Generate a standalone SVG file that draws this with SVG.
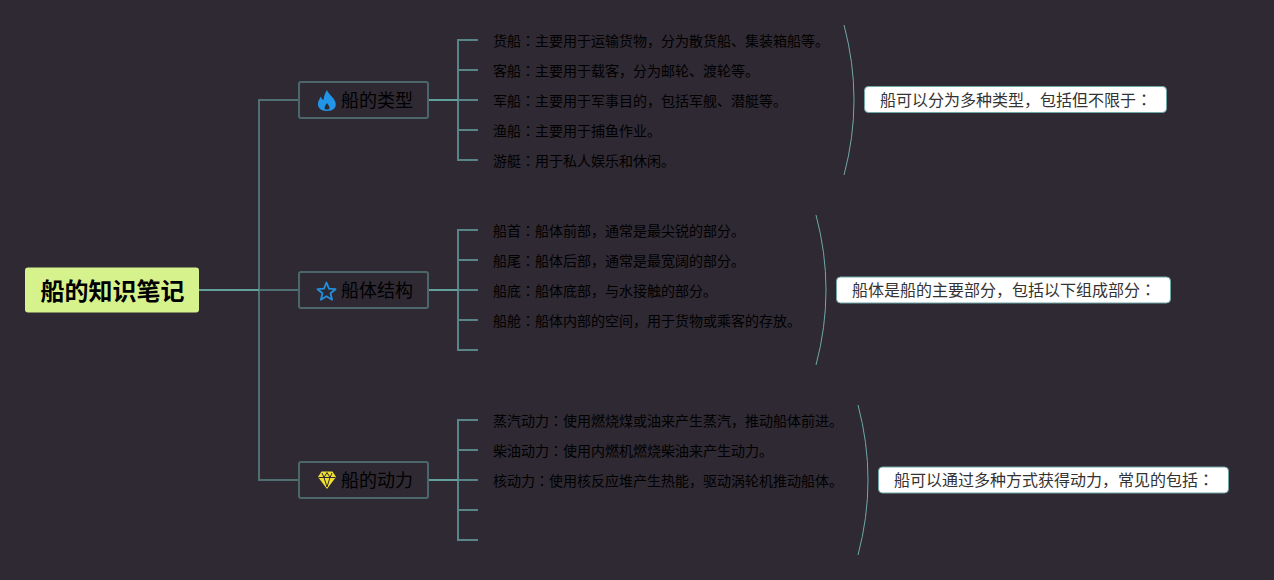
<svg xmlns="http://www.w3.org/2000/svg" width="1274" height="580" viewBox="0 0 1274 580">
<style>
text{font-family:"Noto Sans CJK SC","Noto Sans CJK TC",sans-serif;fill:#0d0d0d}
.c{font-family:"Noto Sans CJK TC","Noto Sans CJK SC",sans-serif}
.root{font-size:24px;font-weight:700;fill:#000}
.branch{font-size:18px;fill:#000}
.leaf{font-size:14px;fill:#000}
.note{font-size:16px;fill:#333}
.box{fill:#2e2932;stroke:#4b676c;stroke-width:2}
.nbox{fill:#fff;stroke:#6fa8a8;stroke-width:1}
.l1{fill:none;stroke:#4f7073;stroke-width:2}
.l2{fill:none;stroke:#59858a;stroke-width:2}
.l2b{fill:none;stroke:#62a09c;stroke-width:2}
.arc{fill:none;stroke:#6fa8a8;stroke-width:1}
</style>
<rect width="1274" height="580" fill="#2e2932"/>
<g id="connectors">
<path class="l1" d="M299 100H259V480H299M259 290H299"/>
<path class="l2b" d="M199 290H259"/>
<path class="l2" d="M478 40H458V160H478M458 70H478M458 100H478M458 130H478"/>
<path class="l2b" d="M428 100H458"/>
<path class="l2" d="M478 230H458V350H478M458 260H478M458 290H478M458 320H478"/>
<path class="l2b" d="M428 290H458"/>
<path class="l2" d="M478 420H458V540H478M458 450H478M458 480H478M458 510H478"/>
<path class="l2b" d="M428 480H458"/>
<path class="arc" d="M844 25Q864 100 844 175"/>
<path class="arc" d="M816 215Q836 290 816 365"/>
<path class="arc" d="M858 405Q878 480 858 555"/>
</g>
<g id="root"><rect x="25" y="267.500" width="174" height="45" rx="3" fill="#d6f28d"/><text class="root" x="40.500" y="300">船的知识笔记</text></g>
<g id="branch-types"><rect class="box" x="299" y="82" width="129" height="36" rx="2"/>
<path d="M327 90C328 94 334 97 335.500 102.500C336.800 107.500 333 111 327 111C321 111 317.200 107.500 318 103C318.400 100.500 320 98 321 96.500C321.500 98.500 322 99.500 323.500 100C324 96 325 93 327 90ZM327 103C325.800 105 324.500 106 324.500 108C324.500 110 329.500 110 329.500 108C329.500 106 328.200 105 327 103Z" fill="#2196e8" fill-rule="evenodd"/>
<text class="branch" x="341" y="107">船的类型</text></g>
<g id="branch-structure"><rect class="box" x="299" y="272" width="129" height="36" rx="2"/>
<path d="M326.500 282.500L329 288.700L335.500 289.200L330.500 293.300L332.100 299.700L326.500 296.200L320.900 299.700L322.500 293.300L317.500 289.200L324 288.700Z" fill="none" stroke="#2390dc" stroke-width="1.800" stroke-linejoin="round"/>
<text class="branch" x="341" y="297">船体结构</text></g>
<g id="branch-power"><rect class="box" x="299" y="462" width="129" height="36" rx="2"/>
<path d="M321.500 471.500H332.500L336 477L327 489L318 477Z" fill="#efe02e"/>
<path d="M318.500 477.500H335.500M322 473L324 477.500L327 487M332 473L330 477.500L327 487M327 472.500L324 477.500M327 472.500L330 477.500" fill="none" stroke="#2e2932" stroke-width="1"/>
<text class="branch" x="341" y="487">船的动力</text></g>
<g id="leaf-1-1"><text class="leaf" x="493" y="46">货船<tspan class="c">：</tspan>主要用于运输货物，分为散货船、集装箱船等。</text></g>
<g id="leaf-1-2"><text class="leaf" x="493" y="76">客船<tspan class="c">：</tspan>主要用于载客，分为邮轮、渡轮等。</text></g>
<g id="leaf-1-3"><text class="leaf" x="493" y="106">军船<tspan class="c">：</tspan>主要用于军事目的，包括军舰、潜艇等。</text></g>
<g id="leaf-1-4"><text class="leaf" x="493" y="136">渔船<tspan class="c">：</tspan>主要用于捕鱼作业。</text></g>
<g id="leaf-1-5"><text class="leaf" x="493" y="166">游艇<tspan class="c">：</tspan>用于私人娱乐和休闲。</text></g>
<g id="leaf-2-1"><text class="leaf" x="493" y="236">船首<tspan class="c">：</tspan>船体前部，通常是最尖锐的部分。</text></g>
<g id="leaf-2-2"><text class="leaf" x="493" y="266">船尾<tspan class="c">：</tspan>船体后部，通常是最宽阔的部分。</text></g>
<g id="leaf-2-3"><text class="leaf" x="493" y="296">船底<tspan class="c">：</tspan>船体底部，与水接触的部分。</text></g>
<g id="leaf-2-4"><text class="leaf" x="493" y="326">船舱<tspan class="c">：</tspan>船体内部的空间，用于货物或乘客的存放。</text></g>
<g id="leaf-3-1"><text class="leaf" x="493" y="426">蒸汽动力<tspan class="c">：</tspan>使用燃烧煤或油来产生蒸汽，推动船体前进。</text></g>
<g id="leaf-3-2"><text class="leaf" x="493" y="456">柴油动力<tspan class="c">：</tspan>使用内燃机燃烧柴油来产生动力。</text></g>
<g id="leaf-3-3"><text class="leaf" x="493" y="486">核动力<tspan class="c">：</tspan>使用核反应堆产生热能，驱动涡轮机推动船体。</text></g>
<g id="note-1"><rect class="nbox" x="864.500" y="86.500" width="302" height="26" rx="4"/><text class="note" x="880" y="106">船可以分为多种类型，包括但不限于<tspan class="c">：</tspan></text></g>
<g id="note-2"><rect class="nbox" x="836.500" y="277" width="334" height="26" rx="4"/><text class="note" x="852" y="296">船体是船的主要部分，包括以下组成部分<tspan class="c">：</tspan></text></g>
<g id="note-3"><rect class="nbox" x="878.500" y="467" width="350" height="26" rx="4"/><text class="note" x="894" y="486">船可以通过多种方式获得动力，常见的包括<tspan class="c">：</tspan></text></g>
</svg>
